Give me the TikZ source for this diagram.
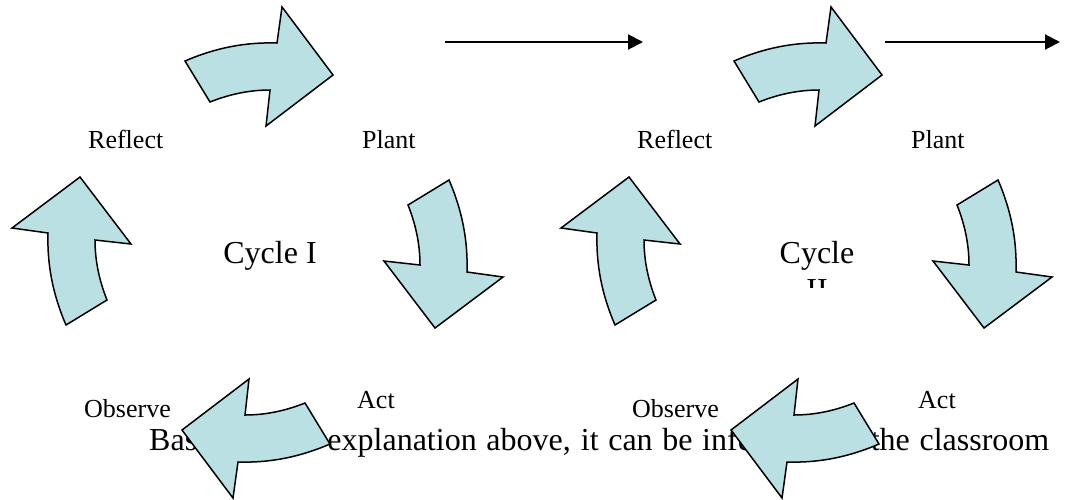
\documentclass[tikz,border=0pt]{standalone}
\usepackage{fontspec}
\setmainfont{Liberation Serif}
\usetikzlibrary{arrows.meta}
\definecolor{CycFill}{RGB}{187,224,227}
\tikzset{
  cyc arrow/.style={draw=black, fill=CycFill, line width=1.5pt, line join=miter},
  flow arrow/.style={-{Triangle[length=15pt,width=15pt]}, line width=2pt},
  stage label/.style={font=\fontsize{26}{30}\selectfont, inner sep=0pt, anchor=base west},
  cycle label/.style={font=\fontsize{32}{37}\selectfont, inner sep=0pt, anchor=base},
  body text/.style={font=\fontsize{32}{37}\selectfont, inner sep=0pt, anchor=base west}
}
\begin{document}
\begin{tikzpicture}[x=1pt,y=-1pt]
\useasboundingbox (0,0) rectangle (1067,499);
% line of text running under the arrows
\node[body text] (body) at (149,450) {\makebox[900pt][s]{Based on the explanation above, it can be inferred that the classroom}};
% stage labels
\node[stage label] (reflectI) at (88,148) {Reflect};
\node[stage label] (plantI) at (362,148) {Plant};
\node[stage label] (observeI) at (84,417) {Observe};
\node[stage label] (actI) at (357,408) {Act};
\node[stage label] (reflectII) at (637,148) {Reflect};
\node[stage label] (plantII) at (911,148) {Plant};
\node[stage label] (observeII) at (632,417) {Observe};
\node[stage label] (actII) at (918,408) {Act};
\node[cycle label] (cycI) at (270,263) {Cycle I};
\node[cycle label] (cycII) at (817,263) {Cycle};
\begin{scope}
  \clip (750,270) rectangle (880,287);
  \node[cycle label] (cycIIb) at (817,300) {II};
\end{scope}
% curved arrows round each cycle
\foreach \cx in {257.5,806.5}
  \foreach \ang in {0,-90,90,180}
    \draw[cyc arrow, shift={(\cx,252.5)}, rotate=\ang]
      (-72.5,-191.5) .. controls (-42.5,-204.5) and (-12.5,-210.5) .. (19.5,-209.5)
      -- (24.5,-245.5) -- (75.5,-177.5) -- (8.5,-126.5) -- (12.5,-162.5)
      .. controls (-7.5,-162.5) and (-27.5,-158.5) .. (-47.5,-150.5) -- cycle;
% arrows to the next cycle
\coordinate (goI) at (445,42);
\coordinate (goIend) at (643,42);
\coordinate (goII) at (885,42);
\coordinate (goIIend) at (1060,42);
\draw[flow arrow] (goI) -- (goIend);
\draw[flow arrow] (goII) -- (goIIend);
\end{tikzpicture}
\end{document}
